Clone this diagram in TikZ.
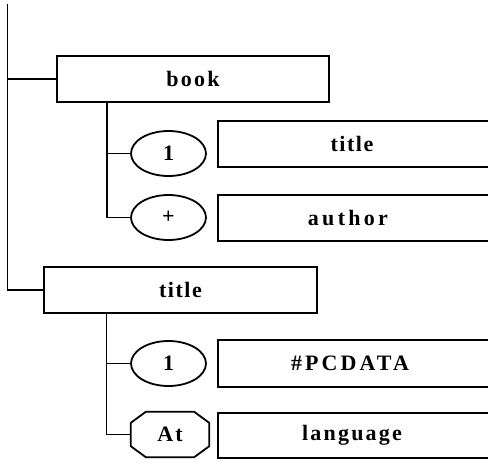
\documentclass[tikz,border=0pt]{standalone}
\usepackage{fontspec}
\setmainfont{Liberation Serif}
\usetikzlibrary{shapes.geometric,calc}
\tikzset{
  lbl/.style={font=\fontsize{22}{22}\selectfont\bfseries\addfontfeature{LetterSpace=#1}},
  lbl/.default=10,
  box/.style={draw,line width=1.8pt,rectangle,inner sep=0pt},
  card/.style={lbl,draw,line width=1.8pt,ellipse,inner sep=0pt,minimum width=75pt,minimum height=45pt},
  link/.style={line width=1.8pt}
}
\begin{document}
\begin{tikzpicture}[x=1pt,y=-1pt]
\useasboundingbox (0,0) rectangle (488,464);
\clip (0,0) rectangle (488,464);
% element declarations
\node[box,lbl,minimum width=272pt,minimum height=46pt] (book) at (193,79) {book};
\node[box,lbl=7,minimum width=273pt,minimum height=46pt] (ttl) at (180.5,290) {title};
% children of book
\node[card] (c1) at (168.5,153.5) {1};
\node[box,anchor=west,minimum width=276pt,minimum height=46pt] (btitle) at (217,144) {};
\node[lbl=7] at (352,144) {title};
\node[card] (c2) at (168.5,217.5) {+};
\node[box,anchor=west,minimum width=276pt,minimum height=46pt] (bauthor) at (217,218) {};
\node[lbl=15] at (348,218) {author};
% children of title
\node[card] (c3) at (168.5,363.5) {1};
\node[box,anchor=west,minimum width=276pt,minimum height=47pt] (bpcdata) at (217,363.5) {};
\node[lbl=14] at (350,363.5) {\#PCDATA};
\node[lbl,minimum width=78pt,minimum height=45pt] (att) at (170,434.5) {At};
\draw[link] ($(att.north west)+(15,0)$) -- ($(att.north east)+(-15,0)$)
  -- ($(att.north east)+(0,11)$) -- ($(att.south east)+(0,-11)$)
  -- ($(att.south east)+(-15,0)$) -- ($(att.south west)+(15,0)$)
  -- ($(att.south west)+(0,-11)$) -- ($(att.north west)+(0,11)$) -- cycle;
\node[box,anchor=west,minimum width=276pt,minimum height=45pt] (blang) at (217,435.5) {};
\node[lbl] at (352,435.5) {language};
% connectors
\coordinate (root) at (7.5,4);
\draw[link] (root) |- (ttl.west);
\draw[link] (root |- book.west) -- (book.west);
\coordinate (s1) at (107,102);
\draw[link] (s1) |- (c2.west);
\draw[link] (s1 |- c1.west) -- (c1.west);
\coordinate (s2) at (106.5,313);
\draw[link] (s2) |- (att.west);
\draw[link] (s2 |- c3.west) -- (c3.west);
\end{tikzpicture}
\end{document}
